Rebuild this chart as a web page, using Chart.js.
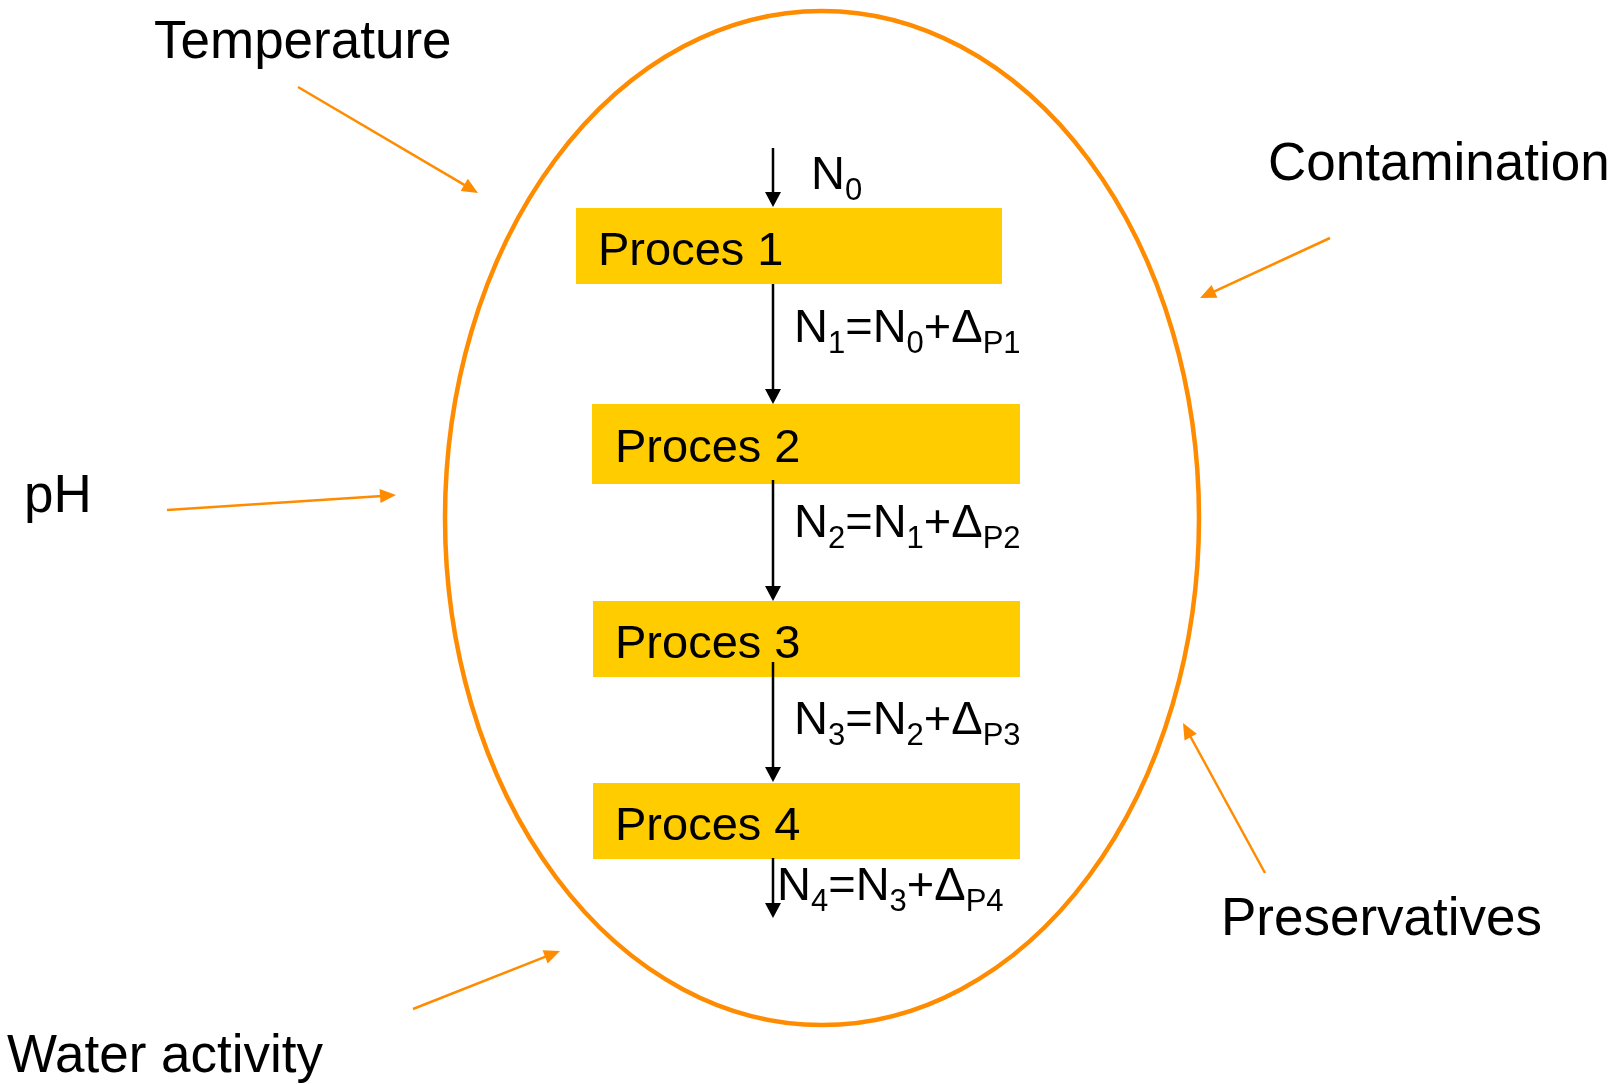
<!DOCTYPE html>
<html>
<head>
<meta charset="utf-8">
<script src="https://cdn.jsdelivr.net/npm/chart.js@4"></script>
<style>
  html, body { margin: 0; padding: 0; background: #fff; }
  #wrap { width: 1617px; height: 1084px; }
</style>
</head>
<body>
<div id="wrap"><canvas id="diagram" width="1617" height="1084"></canvas></div>
<script>
// process boxes (diagram units, y grows downward)
const processLabels = ['Proces 1', 'Proces 2', 'Proces 3', 'Proces 4']
const boxLeft = [576, 592, 593, 593]
const boxRight = [1002, 1020, 1020, 1020]
const boxTop = [208, 404, 601, 783]
const boxBottom = [284, 484, 677, 859]
const labelX = [598, 615, 615, 615]
const labelY = [265, 462, 658, 840]

// black flow arrows between the boxes
const flowX = 773
const flowStart = [148, 284, 480, 662, 858]
const flowEnd = [207, 404, 601, 782, 918]

// N formulas: [main text, subscript] pieces
const formulas = [
    [['N', '0']],
    [['N', '1'], ['=N', '0'], ['+\u0394', 'P1']],
    [['N', '2'], ['=N', '1'], ['+\u0394', 'P2']],
    [['N', '3'], ['=N', '2'], ['+\u0394', 'P3']],
    [['N', '4'], ['=N', '3'], ['+\u0394', 'P4']],
]
const formulaX = [811, 794, 794, 794, 777]
const formulaY = [189, 342, 537, 734, 900]

// outside factors and their orange arrows
const factors = ['Temperature', 'Contamination', 'pH', 'Water activity', 'Preservatives']
const factorX = [154, 1268, 24, 7, 1221]
const factorY = [58, 180, 512, 1072, 935]
const arrowFrom = [[298, 87], [1330, 238], [167, 510], [413, 1009], [1265, 873]]
const arrowTo = [[478, 193], [1200, 298], [396, 495], [560, 951], [1183, 723]]

// the surrounding ellipse
const ellipseCenter = [822, 518]
const ellipseRadius = [377, 507]

const ORANGE = '#FF8C00'
const YELLOW = '#FFCC00'
const FONT = '"Liberation Sans", Arial, sans-serif'

const datasets = []

processLabels.forEach((lab, i) => {
    datasets.push({
        label: lab,
        data: [{ x: boxLeft[i], y: boxTop[i] }, { x: boxRight[i], y: boxTop[i] }],
        borderWidth: 0,
        borderColor: YELLOW,
        backgroundColor: YELLOW,
        fill: { value: boxBottom[i] },
        pointRadius: 0,
        order: 3,
    })
})

flowStart.forEach((s, i) => {
    datasets.push({
        label: 'flow ' + i,
        data: [{ x: flowX, y: s }, { x: flowX, y: flowEnd[i] - 10 }],
        borderColor: '#000',
        borderWidth: 2.5,
        pointRadius: 0,
        fill: false,
        order: 1,
        arrowHead: { to: [flowX, flowEnd[i]], len: 15, half: 8, color: '#000' },
    })
})

factors.forEach((f, i) => {
    const a = arrowFrom[i], b = arrowTo[i]
    const dx = b[0] - a[0], dy = b[1] - a[1]
    const d = Math.hypot(dx, dy)
    datasets.push({
        label: f,
        data: [{ x: a[0], y: a[1] }, { x: b[0] - dx / d * 10, y: b[1] - dy / d * 10 }],
        borderColor: ORANGE,
        borderWidth: 2.5,
        pointRadius: 0,
        fill: false,
        order: 2,
        arrowHead: { from: a, to: b, len: 16, half: 7, color: ORANGE },
    })
})

const drawingPlugin = {
    id: 'drawing',
    beforeDatasetsDraw(chart) {
        const { ctx, scales: { x, y } } = chart
        const cx = x.getPixelForValue(ellipseCenter[0])
        const cy = y.getPixelForValue(ellipseCenter[1])
        const rx = Math.abs(x.getPixelForValue(ellipseCenter[0] + ellipseRadius[0]) - cx)
        const ry = Math.abs(y.getPixelForValue(ellipseCenter[1] + ellipseRadius[1]) - cy)
        ctx.save()
        ctx.strokeStyle = ORANGE
        ctx.lineWidth = 4.5
        ctx.beginPath()
        ctx.ellipse(cx, cy, rx, ry, 0, 0, Math.PI * 2)
        ctx.stroke()
        ctx.restore()
    },
    afterDatasetsDraw(chart) {
        const { ctx, scales: { x, y } } = chart
        ctx.save()

        // arrow heads
        chart.data.datasets.forEach(ds => {
            const h = ds.arrowHead
            if (!h) return
            const from = h.from || [ds.data[0].x, ds.data[0].y]
            const tx = x.getPixelForValue(h.to[0]), ty = y.getPixelForValue(h.to[1])
            const fx = x.getPixelForValue(from[0]), fy = y.getPixelForValue(from[1])
            const ang = Math.atan2(ty - fy, tx - fx)
            ctx.fillStyle = h.color
            ctx.beginPath()
            ctx.moveTo(tx, ty)
            ctx.lineTo(tx - h.len * Math.cos(ang) - h.half * Math.sin(ang), ty - h.len * Math.sin(ang) + h.half * Math.cos(ang))
            ctx.lineTo(tx - h.len * Math.cos(ang) + h.half * Math.sin(ang), ty - h.len * Math.sin(ang) - h.half * Math.cos(ang))
            ctx.closePath()
            ctx.fill()
        })

        ctx.fillStyle = '#000'
        ctx.textBaseline = 'alphabetic'
        ctx.textAlign = 'left'

        // box labels
        ctx.font = '47px ' + FONT
        processLabels.forEach((lab, i) => {
            ctx.fillText(lab, x.getPixelForValue(labelX[i]), y.getPixelForValue(labelY[i]))
        })

        // factor labels
        ctx.font = '53px ' + FONT
        factors.forEach((f, i) => {
            ctx.fillText(f, x.getPixelForValue(factorX[i]), y.getPixelForValue(factorY[i]))
        })

        // formulas with subscripts
        formulas.forEach((parts, i) => {
            let px = x.getPixelForValue(formulaX[i])
            const py = y.getPixelForValue(formulaY[i])
            parts.forEach(([main, sub]) => {
                ctx.font = '47px ' + FONT
                ctx.fillText(main, px, py)
                px += ctx.measureText(main).width
                ctx.font = '31px ' + FONT
                ctx.fillText(sub, px, py + 11)
                px += ctx.measureText(sub).width
            })
        })
        ctx.restore()
    },
}

const diagramCtx = document.getElementById('diagram')
window.myDiagram = new Chart(diagramCtx, {
    type: 'line',
    data: { datasets: datasets },
    options: {
        responsive: false,
        animation: false,
        events: [],
        layout: { padding: 0 },
        scales: {
            x: { type: 'linear', min: 0, max: 1617, display: false },
            y: { type: 'linear', min: 0, max: 1084, reverse: true, display: false },
        },
        plugins: {
            legend: { display: false },
            tooltip: { enabled: false },
        },
    },
    plugins: [drawingPlugin],
})
</script>
</body>
</html>
